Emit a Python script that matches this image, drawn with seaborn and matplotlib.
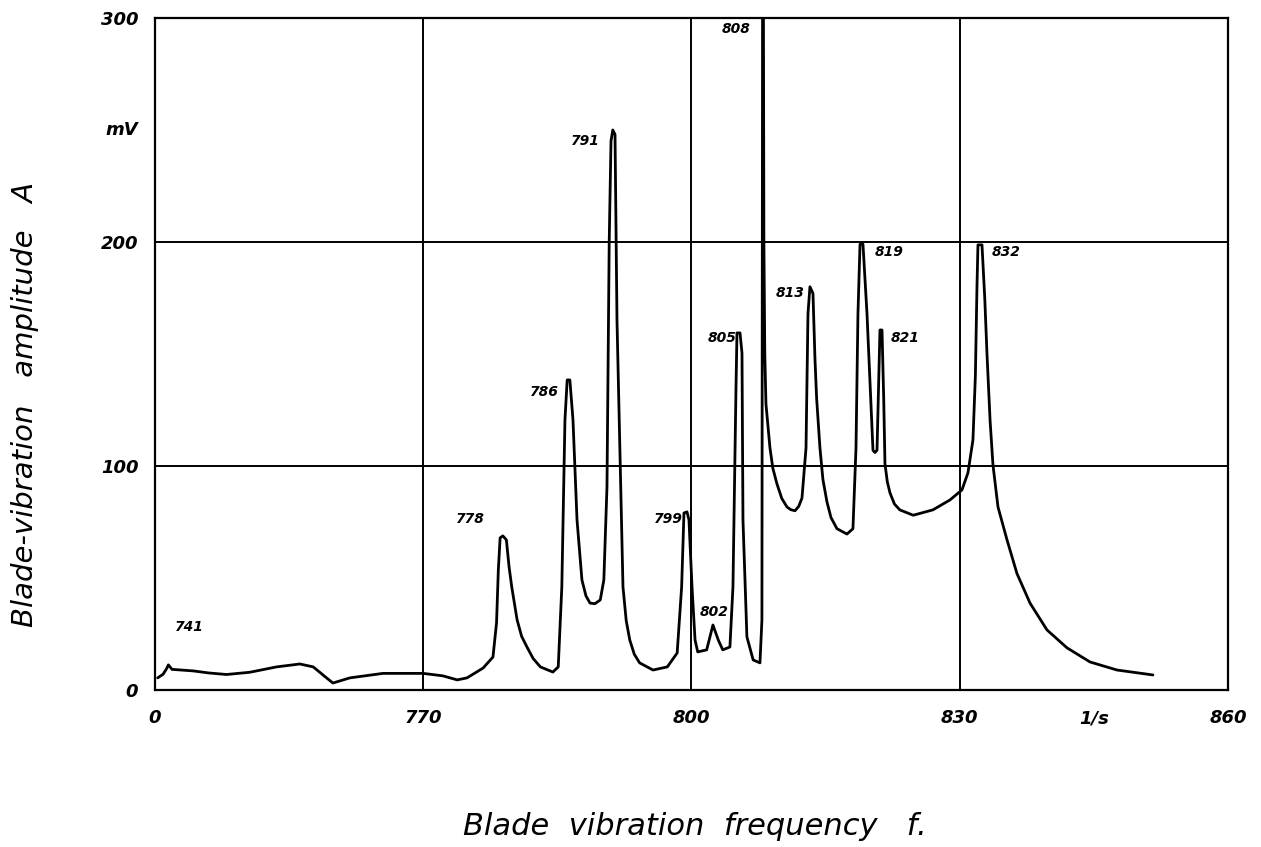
import matplotlib
matplotlib.use("Agg")
import matplotlib.pyplot as plt
import seaborn as sns
import pandas as pd

# ---- data ----
freq = [740.3, 740.9, 741.3, 741.5, 741.9, 744.3, 746.0, 748.0, 750.6, 753.6, 756.2, 757.7,
        759.0, 759.9, 761.8, 765.5, 770.0, 772.2, 773.8, 774.9, 776.7, 777.8, 778.2, 778.4,
        778.6, 778.9, 779.3, 779.6, 779.9, 780.5, 781.0, 781.6, 782.3, 783.1, 784.5, 785.1,
        785.5, 785.85, 786.1, 786.4, 786.75, 787.2, 787.75, 788.2, 788.65, 789.2, 789.8, 790.2,
        790.55, 790.8, 791.0, 791.2, 791.45, 791.67, 792.0, 792.34, 792.7, 793.1, 793.6, 794.2,
        795.7, 797.3, 798.4, 798.9, 799.16, 799.5, 799.72, 800.06, 800.4, 800.7, 801.7, 802.4,
        803.0, 803.5, 804.3, 804.64, 804.98, 805.09, 805.43, 805.65, 805.76, 806.2, 806.9,
        807.66, 807.88, 807.95, 808.05, 808.1, 808.2, 808.33, 808.78, 809.1, 809.56, 810.1,
        810.68, 811.1, 811.58, 812.0, 812.36, 812.81, 813.03, 813.25, 813.59, 813.81, 814.0,
        814.37, 814.7, 815.15, 815.6, 816.27, 817.39, 818.06, 818.4, 818.62, 818.85, 819.18,
        819.63, 820.3, 820.52, 820.75, 821.08, 821.31, 821.5, 821.64, 821.9, 822.2, 822.7,
        823.3, 824.8, 827.0, 828.9, 830.25, 830.92, 831.48, 831.75, 831.93, 832.04, 832.49,
        832.8, 833.05, 833.4, 833.72, 834.28, 835.29, 836.4, 837.86, 839.76, 842.0, 844.57,
        847.59, 851.61]
amplitude = [5.4, 7.0, 9.5, 11.2, 9.2, 8.5, 7.6, 6.9, 7.9, 10.3, 11.6, 10.3,
             6.0, 3.1, 5.4, 7.4, 7.4, 6.3, 4.5, 5.4, 9.8, 14.7, 30.0, 53.6,
             67.9, 68.8, 67.0, 55.0, 46.0, 31.3, 24.0, 19.2, 14.0, 10.3, 8.0, 10.3,
             46.0, 120.5, 138.4, 138.4, 120.5, 75.9, 49.1, 42.0, 38.8, 38.5, 40.2, 49.1,
             90.6, 200.0, 245.0, 250.0, 248.0, 165.0, 105.8, 46.0, 31.0, 22.3, 16.0, 12.1,
             8.9, 10.3, 16.5, 46.0, 79.0, 79.5, 75.9, 46.0, 22.3, 17.0, 17.9, 29.0,
             22.3, 17.9, 19.2, 46.0, 135.0, 159.4, 159.4, 150.4, 75.9, 23.7, 13.4,
             12.1, 31.3, 300.0, 300.0, 200.0, 150.0, 127.7, 108.0, 99.0, 92.0, 85.5,
             81.7, 80.5, 80.0, 82.0, 85.7, 108.0, 168.0, 180.0, 177.0, 148.0, 130.0,
             108.0, 94.0, 84.0, 77.0, 72.0, 69.6, 72.0, 108.0, 168.0, 199.0, 199.0,
             168.0, 107.0, 106.0, 107.0, 160.7, 160.7, 130.0, 101.0, 93.0, 88.0, 83.0,
             80.4, 78.0, 80.4, 84.8, 89.3, 96.9, 111.6, 140.0, 180.0, 198.7, 198.7,
             175.0, 150.0, 120.0, 100.4, 81.7, 67.0, 52.0, 38.8, 26.8, 18.8, 12.5,
             8.9, 6.7]

peak_labels = ["741", "778", "786", "791", "799", "802", "805", "808", "813", "819", "821", "832"]
peak_label_x = [743.8, 776.9, 785.2, 789.8, 799.0, 802.5, 805.0, 806.6, 812.7, 820.5, 822.3, 833.6]
peak_label_y = [28.0, 76.5, 133.0, 245.0, 76.5, 35.0, 157.0, 295.0, 177.0, 195.5, 157.0, 195.5]
peak_label_ha = ["center", "right", "right", "right", "right", "center", "right", "right",
                 "right", "left", "left", "left"]

x_ticks = [740, 770, 800, 830, 845, 860]
x_tick_labels = ["0", "770", "800", "830", "1/s", "860"]
y_ticks = [0, 100, 200, 251, 300]
y_tick_labels = ["0", "100", "200", "mV", "300"]
x_grid = [770, 800, 830]
y_grid = [100, 200]

df = pd.DataFrame({"f": freq, "A": amplitude})

sns.set_theme(style="white")
plt.rcParams["font.family"] = ["DejaVu Sans"]
plt.rcParams["text.color"] = "black"
plt.rcParams["xtick.color"] = "black"
plt.rcParams["ytick.color"] = "black"

fig = plt.figure(figsize=(12.61, 8.47), dpi=100)
ax = fig.add_axes([0.1229, 0.1854, 0.8509, 0.7934])

for gx in x_grid:
    ax.axvline(gx, color="black", lw=1.4, zorder=1)
for gy in y_grid:
    ax.axhline(gy, color="black", lw=1.4, zorder=1)

sns.lineplot(data=df, x="f", y="A", sort=False, estimator=None, color="black",
             lw=2.0, ax=ax, zorder=3)
for ln in ax.get_lines():
    ln.set_solid_joinstyle("round")
    ln.set_solid_capstyle("round")

for lab, lx, ly, ha in zip(peak_labels, peak_label_x, peak_label_y, peak_label_ha):
    ax.text(lx, ly, lab, ha=ha, va="center", fontsize=10, style="italic",
            fontweight="bold", color="black")

ax.set_xlim(740, 860)
ax.set_ylim(0, 300)
ax.set_xticks(x_ticks)
ax.set_xticklabels(x_tick_labels, fontsize=13, style="italic", fontweight="bold", color="black")
ax.set_yticks(y_ticks)
ax.set_yticklabels(y_tick_labels, fontsize=13, style="italic", fontweight="bold", color="black")
ax.tick_params(axis="both", length=0)
ax.tick_params(axis="x", pad=14)
ax.tick_params(axis="y", pad=12)
for s in ax.spines.values():
    s.set_color("black")
    s.set_linewidth(1.6)
    s.set_visible(True)

ax.set_xlabel("")
ax.set_ylabel("")
fig.text(0.551, 0.024, "Blade  vibration  frequency   f.", ha="center", va="center",
         fontsize=22, style="italic", color="black")
fig.text(0.02, 0.523, "Blade-vibration   amplitude   A", ha="center", va="center",
         rotation=90, fontsize=21, style="italic", color="black")

fig.savefig("out.png", dpi=100, facecolor="white")
